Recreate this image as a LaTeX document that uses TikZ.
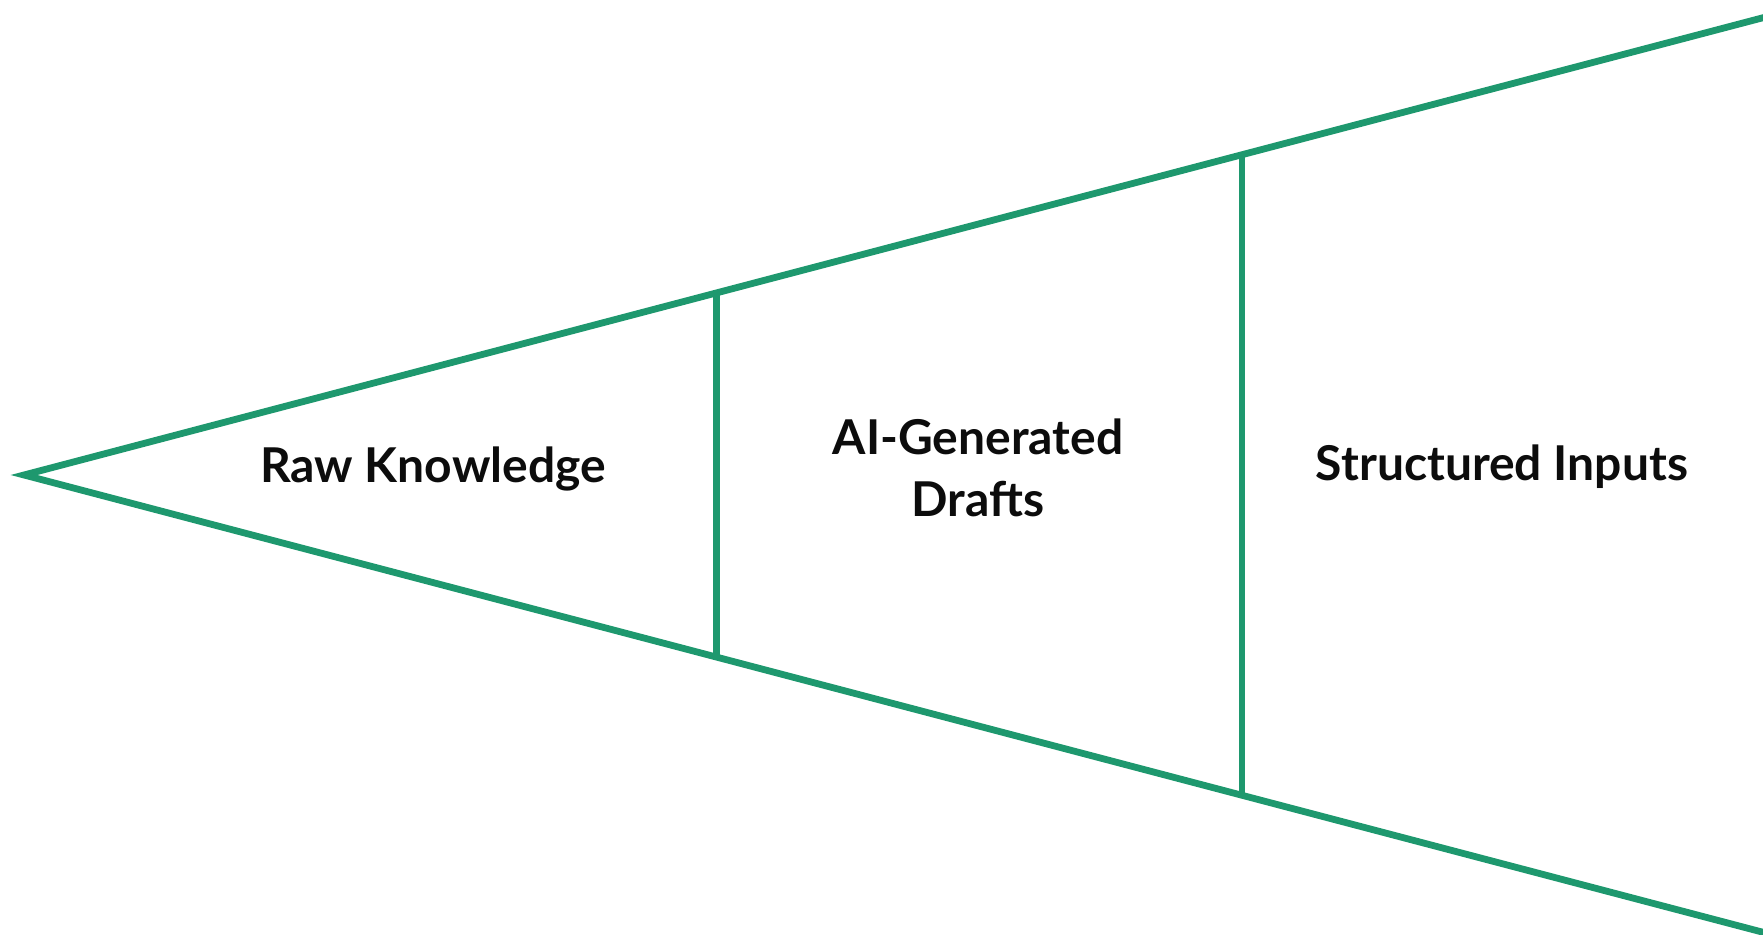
\documentclass[tikz,border=0pt]{standalone}
\usepackage{fontspec}
\setmainfont{Lato}
\usetikzlibrary{positioning,calc}
\definecolor{Verde}{RGB}{30, 152, 110}
\definecolor{Tinta}{RGB}{12, 12, 12}

\begin{document}
\begin{tikzpicture}[x=0.5pt, y=-0.5pt,
	linea/.style={Verde, line width=3.4pt},
	etiqueta/.style={text=Tinta, font=\bfseries\fontsize{24}{31}\selectfont, align=center}]
	% Marco de la imagen
	\useasboundingbox (0,0) rectangle (1763,935);
	\clip (0,0) rectangle (1763,935);
	% Puntos del embudo
	\coordinate (punta) at (24,475);
	\coordinate (arriba) at (1800,8);
	\coordinate (abajo) at (1800,942);
	\coordinate (a1) at ($(punta)!0.3897!(arriba)$);
	\coordinate (b1) at ($(punta)!0.3897!(abajo)$);
	\coordinate (a2) at ($(punta)!0.6858!(arriba)$);
	\coordinate (b2) at ($(punta)!0.6858!(abajo)$);
	% Dibuja el embudo y las divisiones
	\draw[linea, line join=miter] (arriba) -- (punta) -- (abajo);
	\draw[linea] (a1) -- (b1);
	\draw[linea] (a2) -- (b2);
	% Agrega los textos
	\node[etiqueta] (raw) at (433,469) {Raw Knowledge};
	\node[etiqueta] (drafts) at (978,468) {AI-Generated\\Drafts};
	\node[etiqueta] (inputs) at (1502,467) {Structured Inputs};
\end{tikzpicture}
\end{document}
